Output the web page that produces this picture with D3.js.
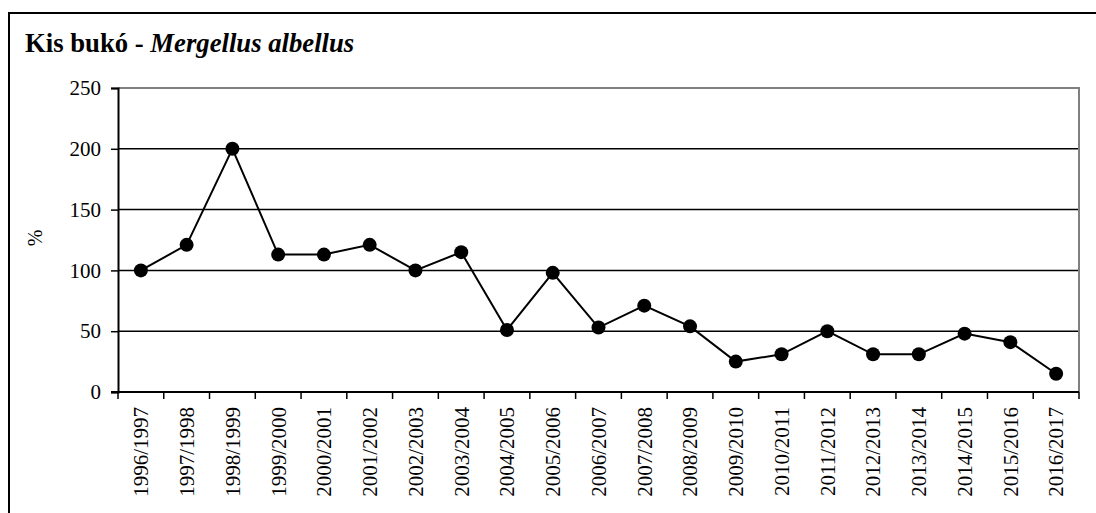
<!DOCTYPE html>
<html>
<head>
<meta charset="utf-8">
<script src="https://cdn.jsdelivr.net/npm/d3@7"></script>
<style>
  body { margin: 0; background: #fff; }
  svg { display: block; font-family: "Liberation Serif", "Times New Roman", serif; }
</style>
</head>
<body>
<div id="chart"></div>
<script>
// seasons along the x axis
var seasons = ['1996/1997', '1997/1998', '1998/1999', '1999/2000', '2000/2001', '2001/2002',
  '2002/2003', '2003/2004', '2004/2005', '2005/2006', '2006/2007', '2007/2008', '2008/2009',
  '2009/2010', '2010/2011', '2011/2012', '2012/2013', '2013/2014', '2014/2015', '2015/2016',
  '2016/2017'];

// index, % of 1996/1997
var values = [100, 121, 200, 113, 113, 121, 100, 115, 51, 98, 53, 71, 54, 25, 31, 50, 31, 31, 48, 41, 15];

var yTicks = [0, 50, 100, 150, 200, 250];

var width = 1096, height = 513;
var plot = { left: 118, right: 1079, top: 88, bottom: 392 };

var svg = d3.select('#chart').append('svg')
  .attr('width', width)
  .attr('height', height);

// outer frame, runs off the right and bottom edge
svg.append('rect')
  .attr('x', 9).attr('y', 13)
  .attr('width', 1100).attr('height', 520)
  .attr('fill', 'none')
  .attr('stroke', '#000')
  .attr('stroke-width', 2);

var x = d3.scaleBand().domain(seasons).range([plot.left, plot.right]);
var y = d3.scaleLinear().domain([0, 250]).range([plot.bottom, plot.top]);

// title
var title = svg.append('text')
  .attr('x', 25).attr('y', 52)
  .attr('font-size', 26.7)
  .attr('font-weight', 'bold');
title.append('tspan').text('Kis bukó - ');
title.append('tspan').attr('font-style', 'italic').text('Mergellus albellus');

// grid lines
svg.append('g').selectAll('line')
  .data(yTicks.filter(function(d) { return d > 0 && d < 250; }))
  .enter().append('line')
  .attr('x1', plot.left).attr('x2', plot.right)
  .attr('y1', function(d) { return y(d); })
  .attr('y2', function(d) { return y(d); })
  .attr('stroke', '#000')
  .attr('stroke-width', 1.5);

// gray plot border top and right
svg.append('path')
  .attr('d', 'M' + plot.left + ',' + y(250) + 'H' + plot.right + 'V' + plot.bottom)
  .attr('fill', 'none')
  .attr('stroke', '#808080')
  .attr('stroke-width', 2);

// y axis
var yAxis = svg.append('g')
  .attr('transform', 'translate(' + plot.left + ',0)')
  .call(d3.axisLeft(y).tickValues(yTicks).tickSize(7).tickPadding(10));
yAxis.select('.domain').attr('stroke-width', 2);
yAxis.selectAll('.tick line').attr('stroke-width', 1.5);
yAxis.selectAll('text')
  .attr('font-family', '"Liberation Serif", "Times New Roman", serif')
  .attr('font-size', 21)
  .attr('fill', '#000');

// x axis, ticks between the categories
var xAxis = svg.append('g')
  .attr('transform', 'translate(0,' + plot.bottom + ')');
xAxis.append('line')
  .attr('x1', plot.left - 7).attr('x2', plot.right)
  .attr('stroke', '#000').attr('stroke-width', 2);
xAxis.selectAll('line.tick')
  .data(seasons)
  .enter().append('line')
  .attr('class', 'tick')
  .attr('x1', function(d) { return x(d) + x.bandwidth(); })
  .attr('x2', function(d) { return x(d) + x.bandwidth(); })
  .attr('y1', 0).attr('y2', 7)
  .attr('stroke', '#000').attr('stroke-width', 1.5);
xAxis.append('line')
  .attr('x1', plot.left).attr('x2', plot.left)
  .attr('y1', 0).attr('y2', 7)
  .attr('stroke', '#000').attr('stroke-width', 1.5);
xAxis.selectAll('text')
  .data(seasons)
  .enter().append('text')
  .attr('transform', function(d) {
    return 'translate(' + (x(d) + x.bandwidth() / 2) + ',15) rotate(-90)';
  })
  .attr('text-anchor', 'end')
  .attr('dy', '0.35em')
  .attr('font-size', 21)
  .text(function(d) { return d; });

// y axis title
svg.append('text')
  .attr('transform', 'translate(42,238) rotate(-90)')
  .attr('text-anchor', 'middle')
  .attr('font-size', 20)
  .text('%');

// the series
var line = d3.line()
  .x(function(d, i) { return x(seasons[i]) + x.bandwidth() / 2; })
  .y(function(d) { return y(d); });

svg.append('path')
  .datum(values)
  .attr('d', line)
  .attr('fill', 'none')
  .attr('stroke', '#000')
  .attr('stroke-width', 2);

svg.append('g').selectAll('circle')
  .data(values)
  .enter().append('circle')
  .attr('cx', function(d, i) { return x(seasons[i]) + x.bandwidth() / 2; })
  .attr('cy', function(d) { return y(d); })
  .attr('r', 7)
  .attr('fill', '#000');
</script>
</body>
</html>
